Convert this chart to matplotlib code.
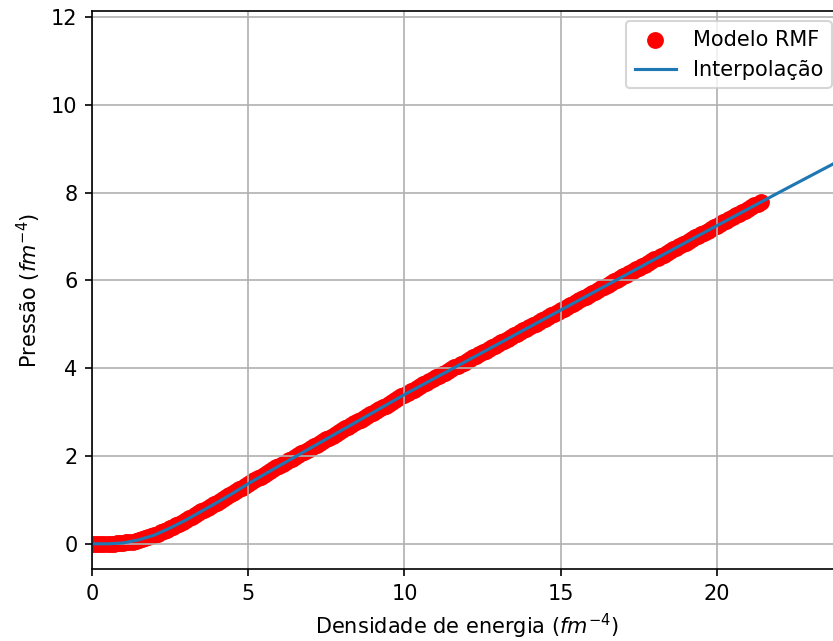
import matplotlib
matplotlib.use('Agg')
import matplotlib.pyplot as plt

# dados (densidade de energia, pressao)
energia = [0.0, 0.1, 0.2, 0.3, 0.4, 0.5, 0.6, 0.7, 0.8, 0.9, 1.0,
           1.1, 1.2, 1.3, 1.4, 1.5, 1.6, 1.7, 1.8, 1.9, 2.0,
           2.1, 2.2, 2.3, 2.4, 2.5, 2.6, 2.7, 2.8, 2.9, 3.0,
           3.1, 3.2, 3.3, 3.4, 3.5, 3.6, 3.7, 3.8, 3.9, 4.0,
           4.1, 4.2, 4.3, 4.4, 4.5, 4.6, 4.7, 4.8, 4.9, 5.0,
           5.1, 5.2, 5.3, 5.4, 5.5, 5.6, 5.7, 5.8, 5.9, 6.0,
           6.1, 6.2, 6.3, 6.4, 6.5, 6.6, 6.7, 6.8, 6.9, 7.0,
           7.1, 7.2, 7.3, 7.4, 7.5, 7.6, 7.7, 7.8, 7.9, 8.0,
           8.1, 8.2, 8.3, 8.4, 8.5, 8.6, 8.7, 8.8, 8.9, 9.0,
           9.1, 9.2, 9.3, 9.4, 9.5, 9.6, 9.7, 9.8, 9.9, 10.0,
           10.1, 10.2, 10.3, 10.4, 10.5, 10.6, 10.7, 10.8, 10.9, 11.0,
           11.1, 11.2, 11.3, 11.4, 11.5, 11.6, 11.7, 11.8, 11.9, 12.0,
           12.1, 12.2, 12.3, 12.4, 12.5, 12.6, 12.7, 12.8, 12.9, 13.0,
           13.1, 13.2, 13.3, 13.4, 13.5, 13.6, 13.7, 13.8, 13.9, 14.0,
           14.1, 14.2, 14.3, 14.4, 14.5, 14.6, 14.7, 14.8, 14.9, 15.0,
           15.1, 15.2, 15.3, 15.4, 15.5, 15.6, 15.7, 15.8, 15.9, 16.0,
           16.1, 16.2, 16.3, 16.4, 16.5, 16.6, 16.7, 16.8, 16.9, 17.0,
           17.1, 17.2, 17.3, 17.4, 17.5, 17.6, 17.7, 17.8, 17.9, 18.0,
           18.1, 18.2, 18.3, 18.4, 18.5, 18.6, 18.7, 18.8, 18.9, 19.0,
           19.1, 19.2, 19.3, 19.4, 19.5, 19.6, 19.7, 19.8, 19.9, 20.0,
           20.1, 20.2, 20.3, 20.4, 20.5, 20.6, 20.7, 20.8, 20.9, 21.0,
           21.1, 21.2, 21.3, 21.4]
pressao = [0.00, 0.00, 0.00, 0.00, 0.00, 0.00, 0.00, 0.00, 0.01, 0.01, 0.02,
           0.03, 0.04, 0.05, 0.07, 0.09, 0.11, 0.13, 0.15, 0.17, 0.20,
           0.23, 0.26, 0.29, 0.32, 0.35, 0.39, 0.42, 0.46, 0.50, 0.54,
           0.58, 0.62, 0.66, 0.70, 0.74, 0.78, 0.82, 0.86, 0.90, 0.94,
           0.98, 1.03, 1.07, 1.11, 1.15, 1.20, 1.24, 1.28, 1.32, 1.37,
           1.41, 1.45, 1.49, 1.53, 1.57, 1.61, 1.66, 1.70, 1.74, 1.78,
           1.82, 1.86, 1.90, 1.94, 1.98, 2.02, 2.06, 2.10, 2.14, 2.18,
           2.22, 2.26, 2.30, 2.34, 2.38, 2.42, 2.46, 2.51, 2.55, 2.59,
           2.63, 2.67, 2.71, 2.75, 2.79, 2.83, 2.87, 2.91, 2.95, 2.99,
           3.03, 3.07, 3.11, 3.15, 3.19, 3.24, 3.28, 3.32, 3.36, 3.40,
           3.44, 3.48, 3.51, 3.55, 3.59, 3.63, 3.67, 3.71, 3.75, 3.79,
           3.82, 3.86, 3.90, 3.94, 3.98, 4.02, 4.05, 4.09, 4.13, 4.17,
           4.21, 4.25, 4.28, 4.32, 4.36, 4.40, 4.44, 4.48, 4.51, 4.55,
           4.59, 4.63, 4.67, 4.71, 4.75, 4.78, 4.82, 4.86, 4.90, 4.94,
           4.98, 5.01, 5.05, 5.09, 5.13, 5.17, 5.21, 5.24, 5.28, 5.32,
           5.36, 5.40, 5.44, 5.47, 5.51, 5.55, 5.59, 5.63, 5.67, 5.71,
           5.74, 5.78, 5.82, 5.86, 5.90, 5.94, 5.98, 6.01, 6.05, 6.09,
           6.13, 6.17, 6.21, 6.25, 6.28, 6.32, 6.36, 6.40, 6.44, 6.48,
           6.51, 6.55, 6.59, 6.63, 6.67, 6.71, 6.75, 6.79, 6.82, 6.86,
           6.90, 6.94, 6.98, 7.02, 7.05, 7.09, 7.13, 7.17, 7.21, 7.25,
           7.29, 7.33, 7.36, 7.40, 7.44, 7.48, 7.52, 7.56, 7.59, 7.63,
           7.67, 7.71, 7.75, 7.79]

# curva interpolada
e_interp = [0.0, 0.5, 1.0, 1.5, 2.0, 2.5, 3.0, 3.5, 4.0, 4.5, 5.0, 6.0,
            8.0, 10.0, 12.0, 14.0, 16.0, 18.0, 20.0, 22.0, 24.0, 26.0]
p_interp = [0.0, 0.0, 0.02, 0.09, 0.20, 0.36, 0.54, 0.74, 0.94, 1.15, 1.37, 1.78,
            2.59, 3.40, 4.17, 4.94, 5.71, 6.48, 7.25, 8.01, 8.76, 9.52]

fig = plt.figure(figsize=(833 / 150, 641 / 150), dpi=150)
ax = fig.add_axes([0.1104, 0.1119, 0.9004, 0.8711])

ax.scatter(energia, pressao, s=50, color='red', label='Modelo RMF')
ax.plot(e_interp, p_interp, label='Interpolação')

ax.set_xlim(0, 24.0)
ax.set_ylim(-0.58, 12.14)
ax.set_xlabel('Densidade de energia ($fm^{-4}$)')
ax.set_ylabel('Pressão ($fm^{-4}$)')
ax.grid(True)
ax.legend(loc='upper right')

plt.savefig('out.png', dpi=150)
